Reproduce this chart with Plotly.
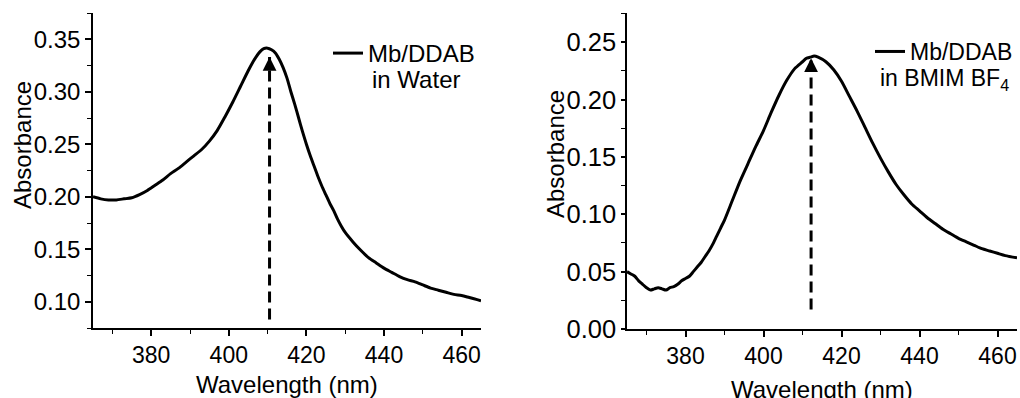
import plotly.graph_objects as go
from plotly.subplots import make_subplots

# ---------------- data ----------------
wl_water = [365, 367, 369, 371, 373, 375, 377, 379, 381, 383, 385, 387, 389, 391, 393, 395,
            397, 399, 401, 403, 405, 406, 407, 408, 409, 410, 411, 412, 413, 414, 415, 416,
            417, 418, 419, 420, 421, 422, 423, 424, 425, 426, 427, 428, 429, 430, 432, 434,
            436, 438, 440, 442, 444, 446, 448, 450, 452, 454, 456, 458, 460, 462, 464, 465]
abs_water = [0.200, 0.198, 0.197, 0.197, 0.198, 0.199, 0.202, 0.206, 0.211, 0.216, 0.222, 0.227,
             0.233, 0.239, 0.245, 0.253, 0.263, 0.276, 0.290, 0.305, 0.320, 0.327, 0.333, 0.338,
             0.341, 0.3415, 0.340, 0.337, 0.331, 0.323, 0.313, 0.300, 0.288, 0.275, 0.262, 0.250,
             0.239, 0.229, 0.219, 0.210, 0.202, 0.194, 0.187, 0.179, 0.172, 0.166, 0.157, 0.149,
             0.142, 0.137, 0.132, 0.128, 0.124, 0.121, 0.119, 0.116, 0.113, 0.111, 0.109, 0.107,
             0.106, 0.104, 0.102, 0.101]

wl_bmim = [365, 366, 367, 368, 369, 370, 371, 372, 373, 374, 375, 376, 377, 378, 379, 380,
           381, 382, 383, 384, 385, 386, 387, 388, 389, 390, 392, 394, 396, 398, 400, 402,
           404, 406, 408, 410, 411, 412, 413, 414, 416, 418, 420, 422, 424, 426, 428, 430,
           432, 434, 436, 438, 440, 442, 444, 446, 448, 450, 452, 454, 456, 458, 460, 462, 465]
abs_bmim = [0.050, 0.048, 0.046, 0.042, 0.039, 0.036, 0.034, 0.035, 0.036, 0.035, 0.034, 0.036,
            0.037, 0.039, 0.042, 0.044, 0.046, 0.050, 0.054, 0.058, 0.063, 0.068, 0.074, 0.081,
            0.088, 0.095, 0.112, 0.129, 0.144, 0.159, 0.173, 0.189, 0.204, 0.217, 0.227, 0.233,
            0.236, 0.237, 0.238, 0.237, 0.233, 0.226, 0.216, 0.203, 0.190, 0.176, 0.162, 0.149,
            0.137, 0.126, 0.117, 0.109, 0.103, 0.097, 0.092, 0.087, 0.083, 0.079, 0.076, 0.073,
            0.070, 0.068, 0.066, 0.064, 0.062]

# peak marker arrows (x position, start, end)
arrow_water_x = [410.5, 410.5]
arrow_water_y = [0.083, 0.333]
arrow_bmim_x = [412.2, 412.2]
arrow_bmim_y = [0.017, 0.236]

legend_water = "Mb/DDAB"
legend_water_2 = "in Water"
legend_bmim = "Mb/DDAB"
legend_bmim_2 = "in BMIM BF<sub>4</sub>"
x_title = "Wavelength (nm)"
y_title = "Absorbance"

# ---------------- figure ----------------
FONT = "Liberation Sans, Arial, sans-serif"
W, H = 1020, 398
mt, mb = 13, 69
ph = H - mt - mb


def py(px_from_top):
    """paper y for a pixel row"""
    return (H - mb - px_from_top) / ph


fig = make_subplots(rows=1, cols=2)

fig.add_trace(go.Scatter(x=wl_water, y=abs_water, mode="lines", name=legend_water,
                         line=dict(color="black", width=3, shape="spline", smoothing=0.7),
                         legend="legend"), row=1, col=1)
fig.add_trace(go.Scatter(x=arrow_water_x, y=arrow_water_y, mode="lines", showlegend=False,
                         line=dict(color="black", width=3, dash="11px,6px")),
              row=1, col=1)
fig.add_trace(go.Scatter(x=wl_bmim, y=abs_bmim, mode="lines", name=legend_bmim,
                         line=dict(color="black", width=3, shape="spline", smoothing=0.7),
                         legend="legend2"), row=1, col=2)
fig.add_trace(go.Scatter(x=arrow_bmim_x, y=arrow_bmim_y, mode="lines", showlegend=False,
                         line=dict(color="black", width=3, dash="11px,6px")),
              row=1, col=2)

axis_common = dict(showline=True, linecolor="black", linewidth=1.5, showgrid=False, zeroline=False,
                   ticks="outside", ticklen=6, tickwidth=1.5, tickcolor="black", mirror=False)
minor_common = dict(ticks="outside", ticklen=4, tickwidth=1.2, tickcolor="black")

fig.update_xaxes(**axis_common, range=[365, 465], dtick=20, tick0=0,
                 tickfont=dict(family=FONT, size=23, color="black"),
                 minor=dict(**minor_common, dtick=10, tick0=0))
fig.update_layout(
    xaxis=dict(domain=[93 / W, 481 / W]),
    xaxis2=dict(domain=[627 / W, 1017 / W]),
    yaxis=dict(**axis_common, domain=[1 / ph, 1], range=[0.075, 0.375], dtick=0.05, tick0=0,
               tickformat=".2f", tickfont=dict(family=FONT, size=24, color="black"),
               minor=dict(**minor_common, dtick=0.025, tick0=0)),
    yaxis2=dict(**{**axis_common, "ticklen": 4}, domain=[0, 1], range=[0, 0.2755], dtick=0.05, tick0=0,
                tickformat=".2f", tickfont=dict(family=FONT, size=25.5, color="black"),
                minor=dict(**minor_common, dtick=0.025, tick0=0)),
)

fig.update_layout(
    width=W, height=H,
    margin=dict(l=0, r=0, t=mt, b=mb),
    paper_bgcolor="white", plot_bgcolor="white",
    font=dict(family=FONT, size=23, color="black"),
    legend=dict(x=328 / W, y=py(31), xanchor="left", yanchor="top",
                bgcolor="rgba(0,0,0,0)", font=dict(family=FONT, size=24), itemwidth=30),
    legend2=dict(x=870 / W, y=py(30), xanchor="left", yanchor="top",
                 bgcolor="rgba(0,0,0,0)", font=dict(family=FONT, size=23), itemwidth=30),
)

ann = []
# arrowheads at the top of the dashed peak markers
for xs, ys, xr, yr in [(arrow_water_x, arrow_water_y, "x", "y"),
                       (arrow_bmim_x, arrow_bmim_y, "x2", "y2")]:
    ann.append(dict(x=xs[1], y=ys[1], ax=xs[0], ay=ys[1] - 0.012, xref=xr, yref=yr,
                    axref=xr, ayref=yr, text="", showarrow=True, arrowhead=2,
                    arrowsize=1.1, arrowwidth=2.5, arrowcolor="black", standoff=0))
ann.append(dict(text=y_title, x=22 / W, y=py(145), xref="paper", yref="paper",
                textangle=-90, showarrow=False, font=dict(family=FONT, size=24),
                xanchor="center", yanchor="middle"))
ann.append(dict(text=y_title, x=555 / W, y=py(154), xref="paper", yref="paper",
                textangle=-90, showarrow=False, font=dict(family=FONT, size=24),
                xanchor="center", yanchor="middle"))
ann.append(dict(text=x_title, x=287 / W, y=py(384), xref="paper", yref="paper",
                showarrow=False, font=dict(family=FONT, size=24), xanchor="center", yanchor="middle"))
ann.append(dict(text=x_title, x=822 / W, y=py(389), xref="paper", yref="paper",
                showarrow=False, font=dict(family=FONT, size=24), xanchor="center", yanchor="middle"))
ann.append(dict(text=legend_water_2, x=370 / W, y=py(79), xref="paper", yref="paper",
                showarrow=False, font=dict(family=FONT, size=24), xanchor="left", yanchor="middle"))
ann.append(dict(text=legend_bmim_2, x=878 / W, y=py(79), xref="paper", yref="paper",
                showarrow=False, font=dict(family=FONT, size=23), xanchor="left", yanchor="middle"))
fig.update_layout(annotations=ann)

fig.write_html("out.html")
